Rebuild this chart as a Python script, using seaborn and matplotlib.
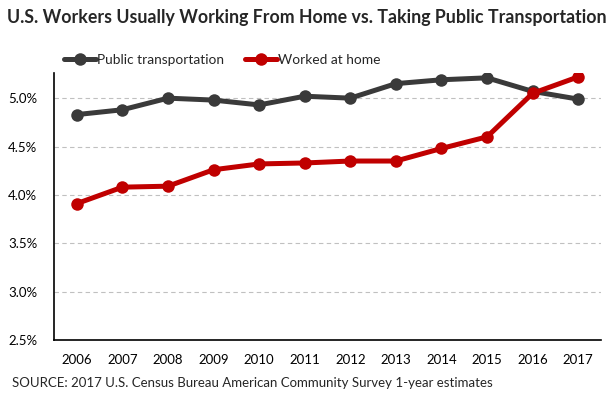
import matplotlib
matplotlib.use("Agg")
import matplotlib.pyplot as plt
import matplotlib.ticker as mticker
import seaborn as sns
import pandas as pd

years = [2006, 2007, 2008, 2009, 2010, 2011, 2012, 2013, 2014, 2015, 2016, 2017]
public_transport = [4.83, 4.88, 5.00, 4.98, 4.93, 5.02, 5.00, 5.15, 5.19, 5.21, 5.07, 4.99]
worked_home = [3.91, 4.08, 4.09, 4.26, 4.32, 4.33, 4.35, 4.35, 4.48, 4.60, 5.05, 5.22]
series_names = ["Public transportation", "Worked at home"]
colors = ["#3a3a3a", "#c00000"]

df = pd.DataFrame({
    "year": years * 2,
    "value": public_transport + worked_home,
    "series": [series_names[0]] * len(years) + [series_names[1]] * len(years),
})

sns.set_theme(style="white")
plt.rcParams["font.family"] = ["Lato", "DejaVu Sans"]

fig = plt.figure(figsize=(6.15, 3.97), dpi=100)
ax = fig.add_axes([54 / 615, 1 - 340 / 397, (601 - 54) / 615, (340 - 73) / 397])

sns.lineplot(data=df, x="year", y="value", hue="series", palette=colors,
             marker="o", markersize=9, linewidth=3.6, markeredgewidth=0,
             ax=ax, legend=False, sort=False)

ax.set_xlim(years[0] - 0.5, years[-1] + 0.5)
ax.set_ylim(2.5, 5.26)
ax.set_yticks([2.5, 3.0, 3.5, 4.0, 4.5, 5.0])
ax.yaxis.set_major_formatter(mticker.FuncFormatter(lambda v, p: f"{v:.1f}%"))
ax.set_xticks(years)
ax.set_xticklabels([str(y) for y in years])
ax.set_xlabel("")
ax.set_ylabel("")
ax.tick_params(axis="both", labelsize=9.5, colors="black", length=0)
ax.tick_params(axis="x", pad=10)
ax.tick_params(axis="y", pad=12)

for y in [3.0, 3.5, 4.0, 4.5, 5.0]:
    ax.axhline(y, color="#c0c0c0", linestyle=(0, (4, 3)), linewidth=0.8, zorder=0)

for s in ["top", "right"]:
    ax.spines[s].set_visible(False)
for s in ["left", "bottom"]:
    ax.spines[s].set_color("black")
    ax.spines[s].set_linewidth(1.2)

handles = [plt.Line2D([0], [0], color=c, linewidth=3.6, marker="o", markersize=9,
                      markeredgewidth=0) for c in colors]
fig.legend(handles, series_names, loc="center left", bbox_to_anchor=(52 / 615, 1 - 60 / 397),
           ncol=2, frameon=False, fontsize=9.9, handlelength=2.3, handletextpad=0.1,
           columnspacing=1.5)

fig.text(7 / 615, 1 - 18 / 397, "U.S. Workers Usually Working From Home vs. Taking Public Transportation",
         fontsize=12.8, fontweight="bold", va="center", ha="left")
fig.text(12 / 615, 1 - 383 / 397, "SOURCE: 2017 U.S. Census Bureau American Community Survey 1-year estimates",
         fontsize=9.5, va="center", ha="left")

fig.savefig("out.png", dpi=100)
